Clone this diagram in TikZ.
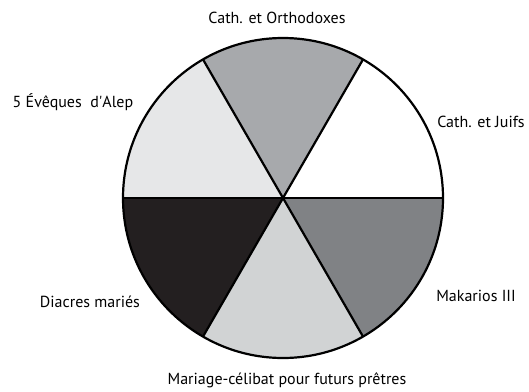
\documentclass[tikz,border=0pt]{standalone}
\usepackage{fontspec}
\setmainfont{PT Sans}
\definecolor{tintA}{HTML}{E6E7E8}
\definecolor{tintB}{HTML}{D1D3D4}
\definecolor{tintC}{HTML}{A7A9AC}
\definecolor{tintD}{HTML}{808285}
\definecolor{tintE}{HTML}{231F20}
\begin{document}
\begin{tikzpicture}[x=1pt,y=1pt,font=\fontsize{16}{19}\selectfont]
\useasboundingbox (-283,-193) rectangle (246,198);
\fill[white] (0,0) -- (0:160) arc[start angle=0,end angle=60,radius=160] -- cycle;
\fill[tintC] (0,0) -- (60:160) arc[start angle=60,end angle=120,radius=160] -- cycle;
\fill[tintA] (0,0) -- (120:160) arc[start angle=120,end angle=180,radius=160] -- cycle;
\fill[tintE] (0,0) -- (180:160) arc[start angle=180,end angle=240,radius=160] -- cycle;
\fill[tintB] (0,0) -- (240:160) arc[start angle=240,end angle=300,radius=160] -- cycle;
\fill[tintD] (0,0) -- (300:160) arc[start angle=300,end angle=360,radius=160] -- cycle;
\draw[line width=2.2pt] (0,0) circle[radius=160];
\draw[line width=2.2pt] (0,0) -- (0:160);
\draw[line width=2.2pt] (0,0) -- (60:160);
\draw[line width=2.2pt] (0,0) -- (120:160);
\draw[line width=2.2pt] (0,0) -- (180:160);
\draw[line width=2.2pt] (0,0) -- (240:160);
\draw[line width=2.2pt] (0,0) -- (300:160);
\node (ortho) at (-6,180) {Cath. et Orthodoxes};
\node (juifs) at (198,76) {Cath. et Juifs};
\node (alep) at (-210,96) {5 Évêques~ d\textquotesingle Alep};
\node (diacres) at (-193,-104) {Diacres mariés};
\node (makarios) at (193,-98) {Makarios III};
\node (mariage) at (4,-182) {Mariage-célibat pour futurs prêtres};
\end{tikzpicture}
\end{document}
